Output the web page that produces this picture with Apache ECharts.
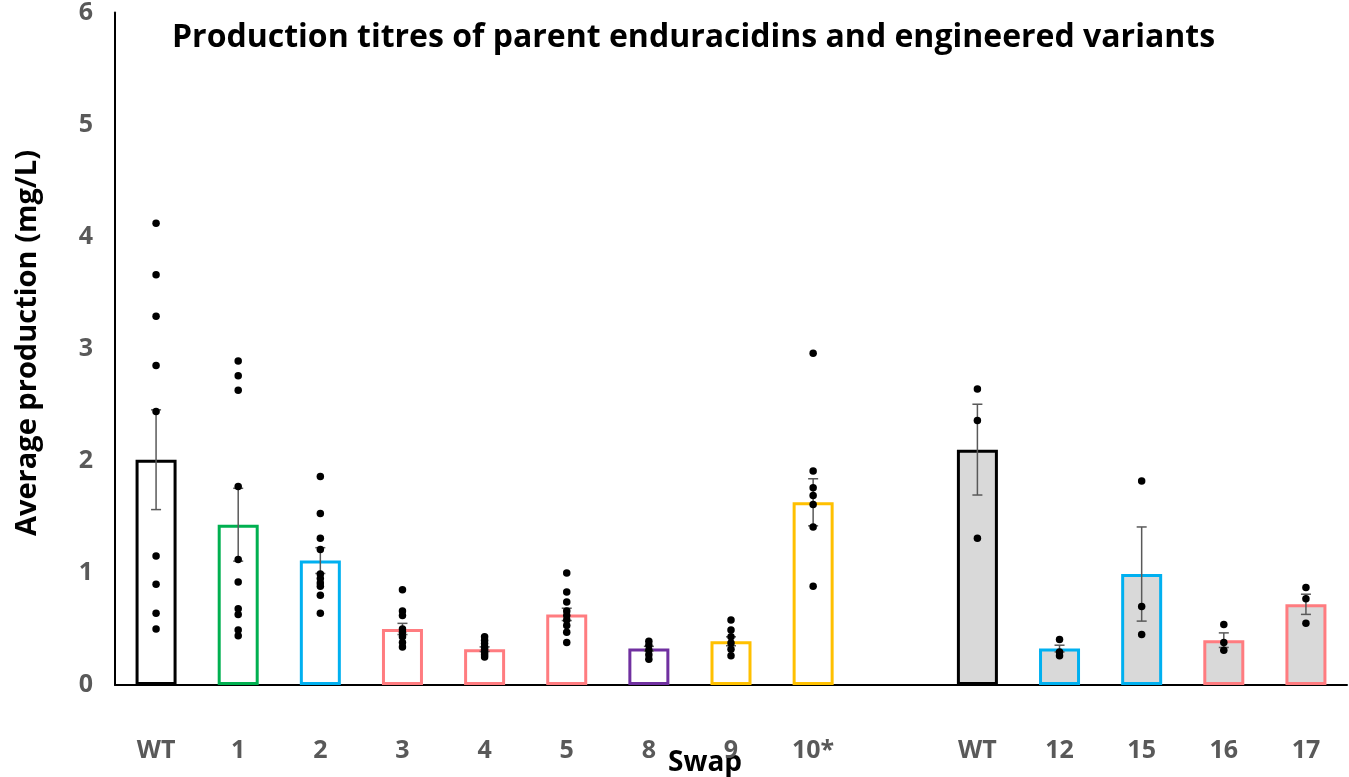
<!DOCTYPE html>
<html>
<head>
<meta charset="utf-8">
<script src="https://cdn.jsdelivr.net/npm/echarts@6/dist/echarts.min.js"></script>
<style>
html,body{margin:0;padding:0;background:#fff;}
#chart{width:1349px;height:777px;}
</style>
</head>
<body>
<div id="chart"></div>
<script>
const categories = ['WT','1','2','3','4','5','8','9','10*','','WT','12','15','16','17'];
const means = [2.01, 1.43, 1.11, 0.50, 0.32, 0.63, 0.325, 0.39, 1.63, null, 2.10, 0.325, 0.99, 0.40, 0.72];
const errors = [0.445, 0.325, 0.115, 0.05, 0.02, 0.055, 0.02, 0.04, 0.21, null, 0.405, 0.03, 0.42, 0.065, 0.09];
const borderColors = ['#000000','#00B050','#00B0F0','#FF7C80','#FF7C80','#FF7C80','#7030A0','#FFC000','#FFC000',null,'#000000','#00B0F0','#00B0F0','#FF7C80','#FF7C80'];
const fillColors = ['#FFFFFF','#FFFFFF','#FFFFFF','#FFFFFF','#FFFFFF','#FFFFFF','#FFFFFF','#FFFFFF','#FFFFFF',null,'#D9D9D9','#D9D9D9','#D9D9D9','#D9D9D9','#D9D9D9'];
const replicates = [
  [4.12, 3.66, 3.29, 2.85, 2.44, 1.15, 0.90, 0.64, 0.50],
  [2.89, 2.76, 2.63, 1.77, 1.12, 0.92, 0.68, 0.63, 0.49, 0.44],
  [1.86, 1.53, 1.31, 1.21, 0.99, 0.95, 0.91, 0.88, 0.80, 0.64],
  [0.85, 0.66, 0.62, 0.50, 0.47, 0.43, 0.38, 0.34],
  [0.43, 0.40, 0.37, 0.34, 0.32, 0.29, 0.27, 0.25],
  [1.00, 0.83, 0.74, 0.66, 0.62, 0.58, 0.53, 0.47, 0.38],
  [0.39, 0.355, 0.31, 0.27, 0.23],
  [0.58, 0.49, 0.43, 0.375, 0.32, 0.26],
  [2.96, 1.91, 1.76, 1.69, 1.61, 1.41, 0.88],
  [],
  [2.64, 2.36, 1.31],
  [0.405, 0.295, 0.26],
  [1.82, 0.70, 0.45],
  [0.54, 0.38, 0.31],
  [0.87, 0.77, 0.55]
];
const yTicks = [0, 1, 2, 3, 4, 5, 6];

const FONT = '"Open Sans", "Noto Sans", sans-serif';

const barData = means.map((v, i) => v === null ? null : ({
  value: v,
  itemStyle: { color: fillColors[i], borderColor: borderColors[i], borderWidth: 3 }
}));
const errData = [];
means.forEach((v, i) => { if (v !== null) errData.push([i, v - errors[i], v + errors[i]]); });
const dotData = [];
replicates.forEach((arr, i) => arr.forEach(v => dotData.push([i, v])));

const chart = echarts.init(document.getElementById('chart'));
chart.setOption({
  animation: false,
  backgroundColor: '#ffffff',
  grid: { left: 115, right: 2, top: 9, bottom: 92, containLabel: false },
  xAxis: {
    type: 'category',
    data: categories,
    boundaryGap: true,
    axisLine: { lineStyle: { color: '#000', width: 2 } },
    axisTick: { show: false },
    axisLabel: { color: '#595959', fontFamily: FONT, fontWeight: 'bold', fontSize: 25, margin: 53, interval: 0 }
  },
  yAxis: {
    type: 'value',
    min: yTicks[0], max: yTicks[yTicks.length - 1], interval: 1,
    splitLine: { show: false },
    axisLine: { show: true, lineStyle: { color: '#000', width: 2 } },
    axisTick: { show: false },
    axisLabel: { color: '#595959', fontFamily: FONT, fontWeight: 'bold', fontSize: 25, margin: 22 }
  },
  graphic: [
    { type: 'text', x: 172, y: 38, style: { text: 'Production titres of parent enduracidins and engineered variants', fill: '#000', font: 'bold 32px ' + FONT, align: 'left', verticalAlign: 'middle' } },
    { type: 'text', x: 705, y: 763, style: { text: 'Swap', fill: '#000', font: 'bold 28px ' + FONT, align: 'center', verticalAlign: 'middle' } },
    { type: 'text', x: 28, y: 343, rotation: Math.PI / 2, style: { text: 'Average production (mg/L)', fill: '#000', font: 'bold 29px ' + FONT, align: 'center', verticalAlign: 'middle' } }
  ],
  series: [
    { type: 'bar', data: barData, barWidth: 41, z: 2 },
    {
      type: 'custom', z: 3,
      data: errData,
      renderItem: function (params, api) {
        const x = api.value(0);
        const lo = api.coord([x, api.value(1)]);
        const hi = api.coord([x, api.value(2)]);
        const cw = 5;
        const st = { stroke: '#595959', lineWidth: 1.5 };
        return { type: 'group', children: [
          { type: 'line', shape: { x1: lo[0], y1: lo[1], x2: hi[0], y2: hi[1] }, style: st },
          { type: 'line', shape: { x1: lo[0] - cw, y1: lo[1], x2: lo[0] + cw, y2: lo[1] }, style: st },
          { type: 'line', shape: { x1: hi[0] - cw, y1: hi[1], x2: hi[0] + cw, y2: hi[1] }, style: st }
        ] };
      }
    },
    { type: 'scatter', data: dotData, symbolSize: 7.5, itemStyle: { color: '#000', opacity: 1 }, z: 4 }
  ]
});
</script>
</body>
</html>
